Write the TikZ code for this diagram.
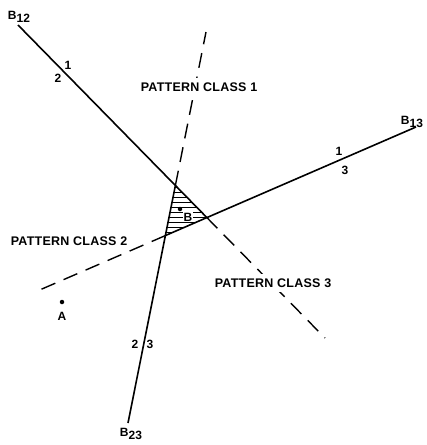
\documentclass[tikz,border=0pt]{standalone}
\usepackage{fontspec}
\setmainfont{Liberation Sans}
\newfontfamily\letterfont[LetterSpace=2]{Liberation Sans}
\usetikzlibrary{calc}

\tikzset{
  bound/.style={line width=1.6pt},
  extend/.style={line width=1.4pt, dash pattern=on 15pt off 9pt},
  cls/.style={font=\letterfont\bfseries\fontsize{12.5}{13}\selectfont, fill=white, inner xsep=2pt, inner ysep=5pt},
  tick/.style={font=\bfseries\fontsize{12}{13}\selectfont, inner sep=0pt},
  bname/.style={font=\bfseries\fontsize{12}{13}\selectfont, inner sep=0pt},
  dot/.style={circle, fill=black, minimum size=4.5pt, inner sep=0pt},
}

\begin{document}
\begin{tikzpicture}[x=1pt,y=-1pt]
          \useasboundingbox (0,0) rectangle (427,445);
          % free ends of the three boundaries
          \coordinate (e12) at (18,25);
          \coordinate (e13) at (416,127);
          \coordinate (e23) at (128,423);
          \coordinate (d12) at (325,338);
          \coordinate (d13) at (35,292);
          \coordinate (d23) at (206,32);
          % corners of the undecided region
          \coordinate (v1) at (intersection of e12--d12 and e23--d23);
          \coordinate (v2) at (intersection of e12--d12 and e13--d13);
          \coordinate (v3) at (intersection of e13--d13 and e23--d23);
          % hatching
          \begin{scope}
            \clip (v1) -- (v2) -- (v3) -- cycle;
            \foreach \y in {187,192,...,240}
              \draw[line width=1pt] (150,\y) -- (220,\y);
          \end{scope}
          % solid parts
          \draw[bound] (e12) -- (v2);
          \draw[bound] (e13) -- (v3);
          \draw[bound] (e23) -- (v1);
          % dashed parts
          \draw[extend] (v2) -- (d12);
          \draw[extend] (v3) -- (d13);
          \draw[extend] (v1) -- (d23);
          % names of the boundaries
          \node[bname] (lb12) at (19,17) {B\raisebox{-3pt}{12}};
          \node[bname] (lb13) at (412,122) {B\raisebox{-3pt}{13}};
          \node[bname] (lb23) at (131,434) {B\raisebox{-3pt}{23}};
          % sides of each boundary
          \node[tick] (t12a) at (68,65) {1};
          \node[tick] (t12b) at (58,78) {2};
          \node[tick] (t13a) at (339,151) {1};
          \node[tick] (t13b) at (345,170) {3};
          \node[tick] (t23a) at (135,344) {2};
          \node[tick] (t23b) at (150,344) {3};
          % classes
          \node[cls] (cls1) at (199,87) {PATTERN CLASS 1};
          \node[cls] (cls2) at (69,241) {PATTERN CLASS 2};
          \node[cls] (cls3) at (273,283) {PATTERN CLASS 3};
          % points
          \node[dot] (ptA) at (62,302) {};
          \node[bname] (lbA) at (62,316) {A};
          \node[dot] (ptB) at (180,209) {};
          \node[bname, fill=white, inner sep=1pt] (lbB) at (188,217) {B};
\end{tikzpicture}
\end{document}
